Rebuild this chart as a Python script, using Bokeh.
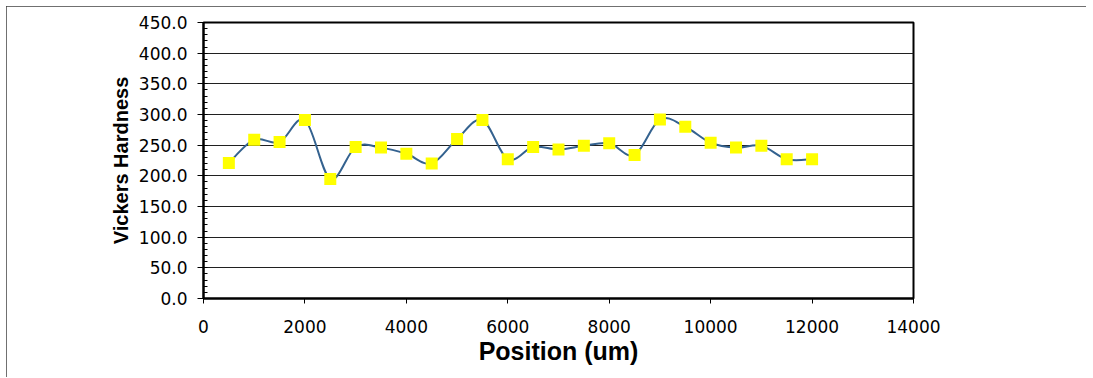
from bokeh.plotting import figure
from bokeh.models import FixedTicker, PrintfTickFormatter, Range1d
from bokeh.embed import file_html
from bokeh.resources import INLINE

# data
position_um = [500, 1000, 1500, 2000, 2500, 3000, 3500, 4000, 4500, 5000, 5500, 6000,
               6500, 7000, 7500, 8000, 8500, 9000, 9500, 10000, 10500, 11000, 11500, 12000]
hardness = [221, 259, 255, 291, 195, 247, 246, 236, 220, 260, 291, 227,
            247, 243, 249, 253, 234, 292, 280, 254, 246, 249, 227, 227]

y_ticks = [0, 50, 100, 150, 200, 250, 300, 350, 400, 450]
y_minor = list(range(0, 451, 10))
x_ticks = [0, 2000, 4000, 6000, 8000, 10000, 12000, 14000]

p = figure(width=1080, height=371, output_backend="svg", toolbar_location=None,
           x_range=Range1d(0, 14000), y_range=Range1d(0, 450),
           min_border_left=197, min_border_right=173, min_border_top=16, min_border_bottom=79)
p.styles = {"margin": "6px 0px 0px 6px", "outline": "1px solid #404040", "outline-offset": "-1px"}

p.outline_line_color = "black"
p.outline_line_width = 2
p.background_fill_color = "white"
p.border_fill_color = "white"

p.xgrid.visible = False
p.ygrid.ticker = FixedTicker(ticks=y_ticks)
p.ygrid.grid_line_color = "#202020"
p.ygrid.grid_line_width = 1

# y axis
ya = p.yaxis[0]
ya.ticker = FixedTicker(ticks=y_ticks, minor_ticks=y_minor)
ya.formatter = PrintfTickFormatter(format="%.1f")
ya.axis_line_width = 2
ya.axis_line_color = "black"
ya.major_tick_in = 0
ya.major_tick_out = 6
ya.minor_tick_in = 4
ya.minor_tick_out = 0
ya.major_tick_line_color = "black"
ya.minor_tick_line_color = "black"
ya.major_label_text_font = "DejaVu Sans"
ya.major_label_text_font_size = "17px"
ya.major_label_text_color = "black"
ya.major_label_standoff = 10
ya.axis_label = "Vickers Hardness"
ya.axis_label_text_font = "Liberation Sans"
ya.axis_label_text_font_style = "bold"
ya.axis_label_text_font_size = "20px"
ya.axis_label_text_color = "black"
ya.axis_label_standoff = 4

# x axis
xa = p.xaxis[0]
xa.ticker = FixedTicker(ticks=x_ticks, minor_ticks=[])
xa.formatter = PrintfTickFormatter(format="%d")
xa.axis_line_width = 2
xa.axis_line_color = "black"
xa.major_tick_in = 0
xa.major_tick_out = 5
xa.major_tick_line_color = "black"
xa.minor_tick_line_color = None
xa.major_label_text_font = "DejaVu Sans"
xa.major_label_text_font_size = "17px"
xa.major_label_text_color = "black"
xa.major_label_standoff = 16
xa.axis_label = "Position (um)"
xa.axis_label_text_font = "Liberation Sans"
xa.axis_label_text_font_style = "bold"
xa.axis_label_text_font_size = "25px"
xa.axis_label_text_color = "black"
xa.axis_label_standoff = 1

# smoothed line (Bezier segments through the data points)
n = len(position_um)
x0s, y0s, x1s, y1s, cx0s, cy0s, cx1s, cy1s = [], [], [], [], [], [], [], []
for i in range(n - 1):
    a = max(i - 1, 0)
    d = min(i + 2, n - 1)
    xA, yA = position_um[a], hardness[a]
    xB, yB = position_um[i], hardness[i]
    xC, yC = position_um[i + 1], hardness[i + 1]
    xD, yD = position_um[d], hardness[d]
    x0s.append(xB); y0s.append(yB)
    x1s.append(xC); y1s.append(yC)
    cx0s.append(xB + (xC - xA) / 6.0); cy0s.append(yB + (yC - yA) / 6.0)
    cx1s.append(xC - (xD - xB) / 6.0); cy1s.append(yC - (yD - yB) / 6.0)

p.bezier(x0=x0s, y0=y0s, x1=x1s, y1=y1s, cx0=cx0s, cy0=cy0s, cx1=cx1s, cy1=cy1s,
         line_color="#34628F", line_width=2)

p.scatter(position_um, hardness, marker="square", size=12,
          fill_color="#FFFF00", line_color=None)

open("out.html", "w").write(file_html(p, INLINE))
